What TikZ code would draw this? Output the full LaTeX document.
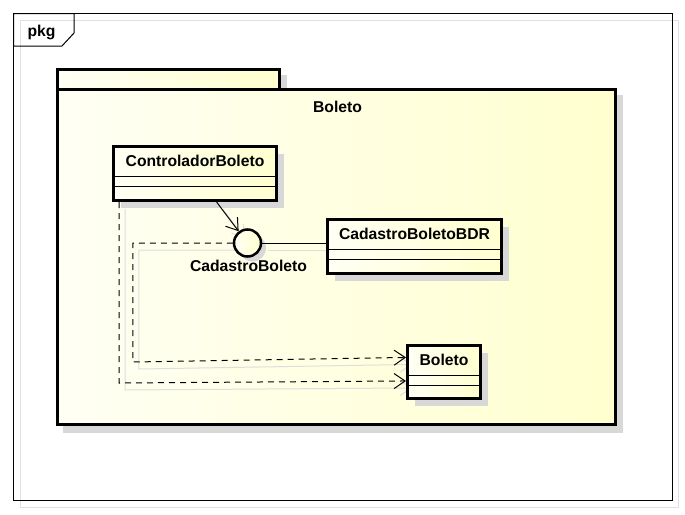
\documentclass[tikz,border=0pt]{standalone}
\usepackage{fontspec}
\setmainfont{Liberation Sans}
\usetikzlibrary{arrows.meta,shadows,calc}
\definecolor{yA}{HTML}{FFFFF4}
\definecolor{yB}{HTML}{FFFFCF}
\definecolor{shd}{HTML}{D8D8D8}
\pgfdeclarelayer{back}
\pgfdeclarelayer{mid}
\pgfsetlayers{back,mid,main}
\begin{document}
\begin{tikzpicture}[x=1pt,y=-1pt,
  lbl/.style={font=\fontsize{15.7}{18}\selectfont\bfseries, inner sep=0pt, anchor=base},
  classbox/.style={draw=black, line width=3pt, left color=yA, right color=yB, inner sep=0pt,
    drop shadow={shadow xshift=7pt, shadow yshift=-7pt, fill=shd, opacity=1}},
  ifacecircle/.style={circle, draw=black, line width=2.5pt, left color=yA, right color=yB, inner sep=0pt,
    minimum size=27pt, drop shadow={shadow xshift=5pt, shadow yshift=-5pt, fill=shd, opacity=1}},
  comp/.style={line width=1pt},
  dep/.style={line width=1pt, dash pattern=on 6pt off 5pt, -{Straight Barb[length=11pt,width=15pt]}},
  navi/.style={line width=1pt, -{Straight Barb[length=11pt,width=15pt]}},
  assoc/.style={line width=1pt},
  cshadow/.style={line width=1pt, draw=black!13, solid},
]
\useasboundingbox (0,0) rectangle (685,514);

% frame and package on the back layer
\begin{pgfonlayer}{back}
  \fill[white] (0,0) rectangle (685,514);
  \draw[black!12, line width=1pt] (20.5,20.5) rectangle (678.5,507.5);
  \draw[black, line width=1pt] (13.5,13.5) rectangle (672.5,500.5);
  \draw[black, line width=1pt] (13.5,13.5) -- (74,13.5) -- (74,33) -- (62,46) -- (13.5,46) -- cycle;
  % package shadows
  \fill[shd] (63,75) rectangle (287,95);
  \fill[shd] (63,95) rectangle (623,433);
  % package tab and body
  \draw[line width=3pt, left color=yA, right color=yB] (57.5,69.5) rectangle (279.5,89.5);
  \draw[line width=3pt, left color=yA, right color=yB] (57.5,89.5) rectangle (615.5,424.5);
\end{pgfonlayer}

\node[lbl] (pkglbl) at (41.5,36) {pkg};
\node[lbl] (pkgname) at (337.5,112.5) {Boleto};

% classes
\node[classbox, minimum width=163pt, minimum height=54pt] (ctrl) at (195,173.5) {};
\node[classbox, minimum width=174pt, minimum height=54pt] (bdr) at (414.5,246.5) {};
\node[classbox, minimum width=73pt, minimum height=53pt] (bol) at (444,372) {};

\foreach \n in {ctrl,bdr,bol}{
  \draw[comp] ($(\n.north west)+(1.5,31)$) -- ($(\n.north east)+(-1.5,31)$);
  \draw[comp] ($(\n.north west)+(1.5,41.5)$) -- ($(\n.north east)+(-1.5,41.5)$);
}

\node[lbl] (ctrlname) at ($(ctrl.north)+(0,21.5)$) {ControladorBoleto};
\node[lbl] (bdrname) at ($(bdr.north)+(0,21.5)$) {CadastroBoletoBDR};
\node[lbl] (bolname) at ($(bol.north)+(0,21.5)$) {Boleto};

% interface
\node[ifacecircle] (iface) at (247.5,243) {};
\node[lbl] (ifacename) at ($(iface.south)+(1,14)$) {CadastroBoleto};

% connectors
\draw[navi] ($(ctrl.south west)!0.63!(ctrl.south east)$) -- (iface);
\draw[assoc] (iface) -- (iface -| bdr.west);
\draw[dep] (iface.west) -- ++(-100,0) -- ++(0,119) -- ($(bol.north west)!0.24!(bol.south west)$);
\draw[dep] ($(ctrl.south west)+(7,0)$) -- ++(0,181) -- ($(bol.north west)!0.66!(bol.south west)$);

% connector shadows
\begin{pgfonlayer}{mid}
\begin{scope}[transform canvas={xshift=6pt,yshift=-7pt}]
  \draw[cshadow, -{Straight Barb[length=11pt,width=15pt]}] ($(ctrl.south west)!0.63!(ctrl.south east)$) -- (iface);
  \draw[cshadow] (iface) -- (iface -| bdr.west);
  \draw[cshadow, -{Straight Barb[length=11pt,width=15pt]}] (iface.west) -- ++(-100,0) -- ++(0,119) -- ($(bol.north west)!0.24!(bol.south west)$);
  \draw[cshadow, -{Straight Barb[length=11pt,width=15pt]}] ($(ctrl.south west)+(7,0)$) -- ++(0,181) -- ($(bol.north west)!0.66!(bol.south west)$);
\end{scope}
\end{pgfonlayer}
\end{tikzpicture}
\end{document}
